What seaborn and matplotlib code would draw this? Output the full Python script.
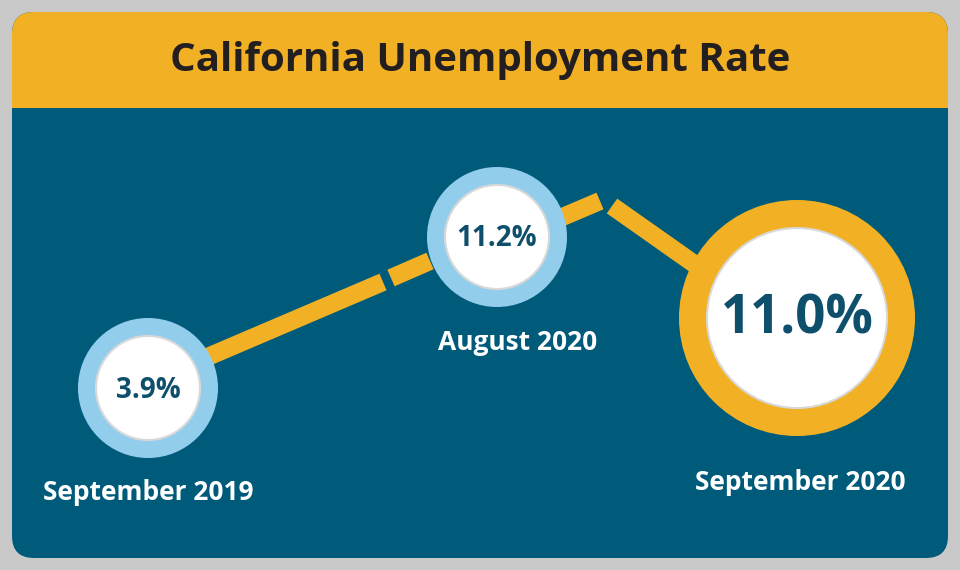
import matplotlib
matplotlib.use("Agg")
import matplotlib.pyplot as plt
import seaborn as sns
from matplotlib.patches import Circle, FancyBboxPatch, Rectangle

sns.set_theme(style="white")
plt.rcParams['font.family'] = ['Open Sans', 'DejaVu Sans']

title = "California Unemployment Rate"
periods = ["September 2019", "August 2020", "September 2020"]
rates = [3.9, 11.2, 11.0]

# layout (pixel coordinates)
cx = [148, 497, 797]
cy = [388, 237, 318]
outer_r = [70, 70, 118]
inner_r = [52, 52, 90]
ring_col = ["#93cdec", "#93cdec", "#f2b124"]
val_size = [20, 20, 38]
lab_xy = [(148, 493), (518, 343), (800, 482)]

YEL = "#f2b124"; TEAL = "#005a7a"; DARK = "#0e4f6c"

fig = plt.figure(figsize=(9.6, 5.7), dpi=100, facecolor="#c9c9c9")
ax = fig.add_axes([0, 0, 1, 1])
ax.set_xlim(0, 960); ax.set_ylim(570, 0); ax.axis("off")

ax.add_patch(FancyBboxPatch((12, 12), 936, 546, boxstyle="round,pad=0,rounding_size=22",
                            fc=TEAL, ec="none", zorder=1))
ax.add_patch(FancyBboxPatch((12, 12), 936, 120, boxstyle="round,pad=0,rounding_size=22",
                            fc=YEL, ec="none", zorder=2))
ax.add_patch(Rectangle((12, 80), 936, 28, fc=YEL, ec="none", zorder=2))
ax.add_patch(Rectangle((12, 108), 936, 40, fc=TEAL, ec="none", zorder=2))
ax.text(480, 60, title, ha="center", va="center", fontsize=29, fontweight="bold",
        color="#231f20", zorder=3)

# connecting band with small breaks
segs = [[(205, 358), (383, 282)], [(391, 278), (430, 261)],
        [(560, 218), (600, 201)], [(612, 206), (700, 268)]]
for s in segs:
    ax.plot([p[0] for p in s], [p[1] for p in s], color=YEL, lw=13,
            solid_capstyle="butt", zorder=3)

for i in range(3):
    ax.add_patch(Circle((cx[i], cy[i]), outer_r[i], fc=ring_col[i], ec="none", zorder=4))
    ax.add_patch(Circle((cx[i], cy[i]), inner_r[i], fc="white", ec="#d8d8d8", lw=1.5, zorder=5))
    ax.text(cx[i], cy[i] + 2, f"{rates[i]:.1f}%", ha="center", va="center",
            fontsize=val_size[i], fontweight="bold", color=DARK, zorder=6)
    ax.text(lab_xy[i][0], lab_xy[i][1], periods[i], ha="center", va="center",
            fontsize=19, fontweight="bold", color="white", zorder=6)

fig.savefig("out.png", dpi=100, facecolor=fig.get_facecolor())
